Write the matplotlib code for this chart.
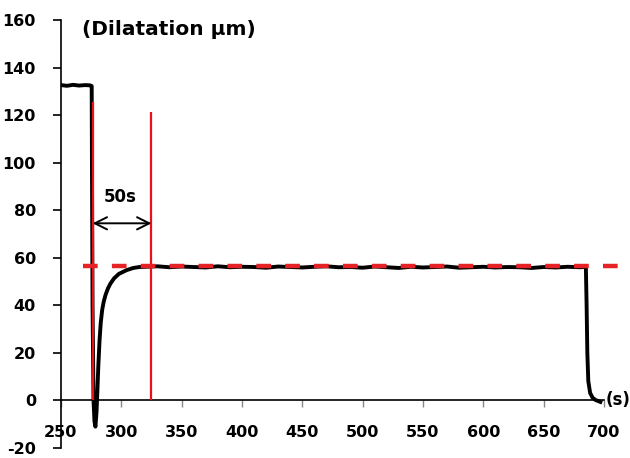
import numpy as np
import matplotlib.pyplot as plt

plt.rcParams["axes.unicode_minus"] = False

# dilatation trace (time in s, dilatation in um)
time_s = [250, 255, 260, 265, 270, 274, 275.5, 275.7, 276.2, 277.0, 277.8, 278.6,
          279.5, 280.3, 281.0, 282.0, 283.0, 284.2, 285.5, 287, 289, 291, 294, 298,
          304.5, 310, 315, 320,
          330, 340, 350, 360, 370, 380, 390, 400, 410, 420, 430, 440, 450, 460, 470,
          480, 490, 500, 510, 520, 530, 540, 550, 560, 570, 580, 590, 600, 610, 620,
          630, 640, 650, 660, 670, 680, 684, 685.0, 685.6, 686.2, 687.0, 688.5, 690.5,
          693, 697]
dilat_um = [132.6, 132.3, 132.7, 132.4, 132.6, 132.5, 132.2, 100, 40, 0, -9, -11.2,
            -5, 5, 14.5, 25, 32.5, 38, 41.5, 44.3, 47.0, 49.0, 51.2, 53.1,
            54.7, 55.6, 56.0, 56.1,
            56.3, 55.9, 56.2, 56.0, 55.8, 56.3, 55.9, 56.1, 56.0, 55.7, 56.2, 56.0, 55.8,
            56.1, 56.3, 55.9, 56.0, 55.7, 56.2, 55.9, 55.6, 56.1, 55.8, 56.0, 56.2, 55.7,
            55.9, 56.1, 55.8, 56.0, 55.9, 55.6, 56.0, 55.8, 56.1, 55.9, 56.0, 55.8, 40,
            20, 8, 3, 1.0, 0.0, -0.8]

steady_level = 56.5
red_lines_x = [276.3, 325]
red_lines_top = [125.6, 121.4]

fig = plt.figure(figsize=(6.3, 4.58), dpi=100)
ax = fig.add_axes([0.0967, 0.0229, 0.862, 0.9334])

ax.plot(time_s, dilat_um, color="black", lw=2.8, zorder=3, solid_joinstyle="round")

# red markers for the 50 s window and the steady level
for x, top in zip(red_lines_x, red_lines_top):
    ax.plot([x, x], [0, top], color="#e8101a", lw=1.6, zorder=4, solid_capstyle="butt")

ax.plot([268, 714], [steady_level, steady_level], color="#e52226", lw=3.2,
        dashes=(3.3, 3.2), zorder=5, clip_on=False)

ax.annotate("", xy=(red_lines_x[0], 74.4), xytext=(red_lines_x[1], 74.4),
            arrowprops=dict(arrowstyle="<->", color="black", lw=1.4,
                            mutation_scale=22, shrinkA=0, shrinkB=0), zorder=6)
ax.text(299, 85.6, "50s", ha="center", va="center", fontsize=12, fontweight="bold")

ax.text(267.5, 155.8, "(Dilatation \u00b5m)", ha="left", va="center",
        fontsize=14.5, fontweight="bold")
ax.text(701, 0, "(s)", ha="left", va="center", fontsize=12, fontweight="bold",
        clip_on=False)

ax.set_xlim(250, 700)
ax.set_ylim(-20, 160)
ax.set_xticks(np.arange(250, 701, 50))
ax.set_yticks(np.arange(-20, 161, 20))

ax.spines["top"].set_visible(False)
ax.spines["right"].set_visible(False)
ax.spines["bottom"].set_position(("data", 0))
ax.spines["left"].set_linewidth(1.2)
ax.spines["bottom"].set_linewidth(1.2)

ax.tick_params(axis="y", direction="out", length=6, width=1.2, pad=12, labelsize=11.5)
ax.tick_params(axis="x", direction="out", length=5, width=1, color="#888888",
               pad=13, labelsize=11.5)
for lab in ax.get_xticklabels() + ax.get_yticklabels():
    lab.set_fontweight("bold")

plt.savefig("out.png", dpi=100)
